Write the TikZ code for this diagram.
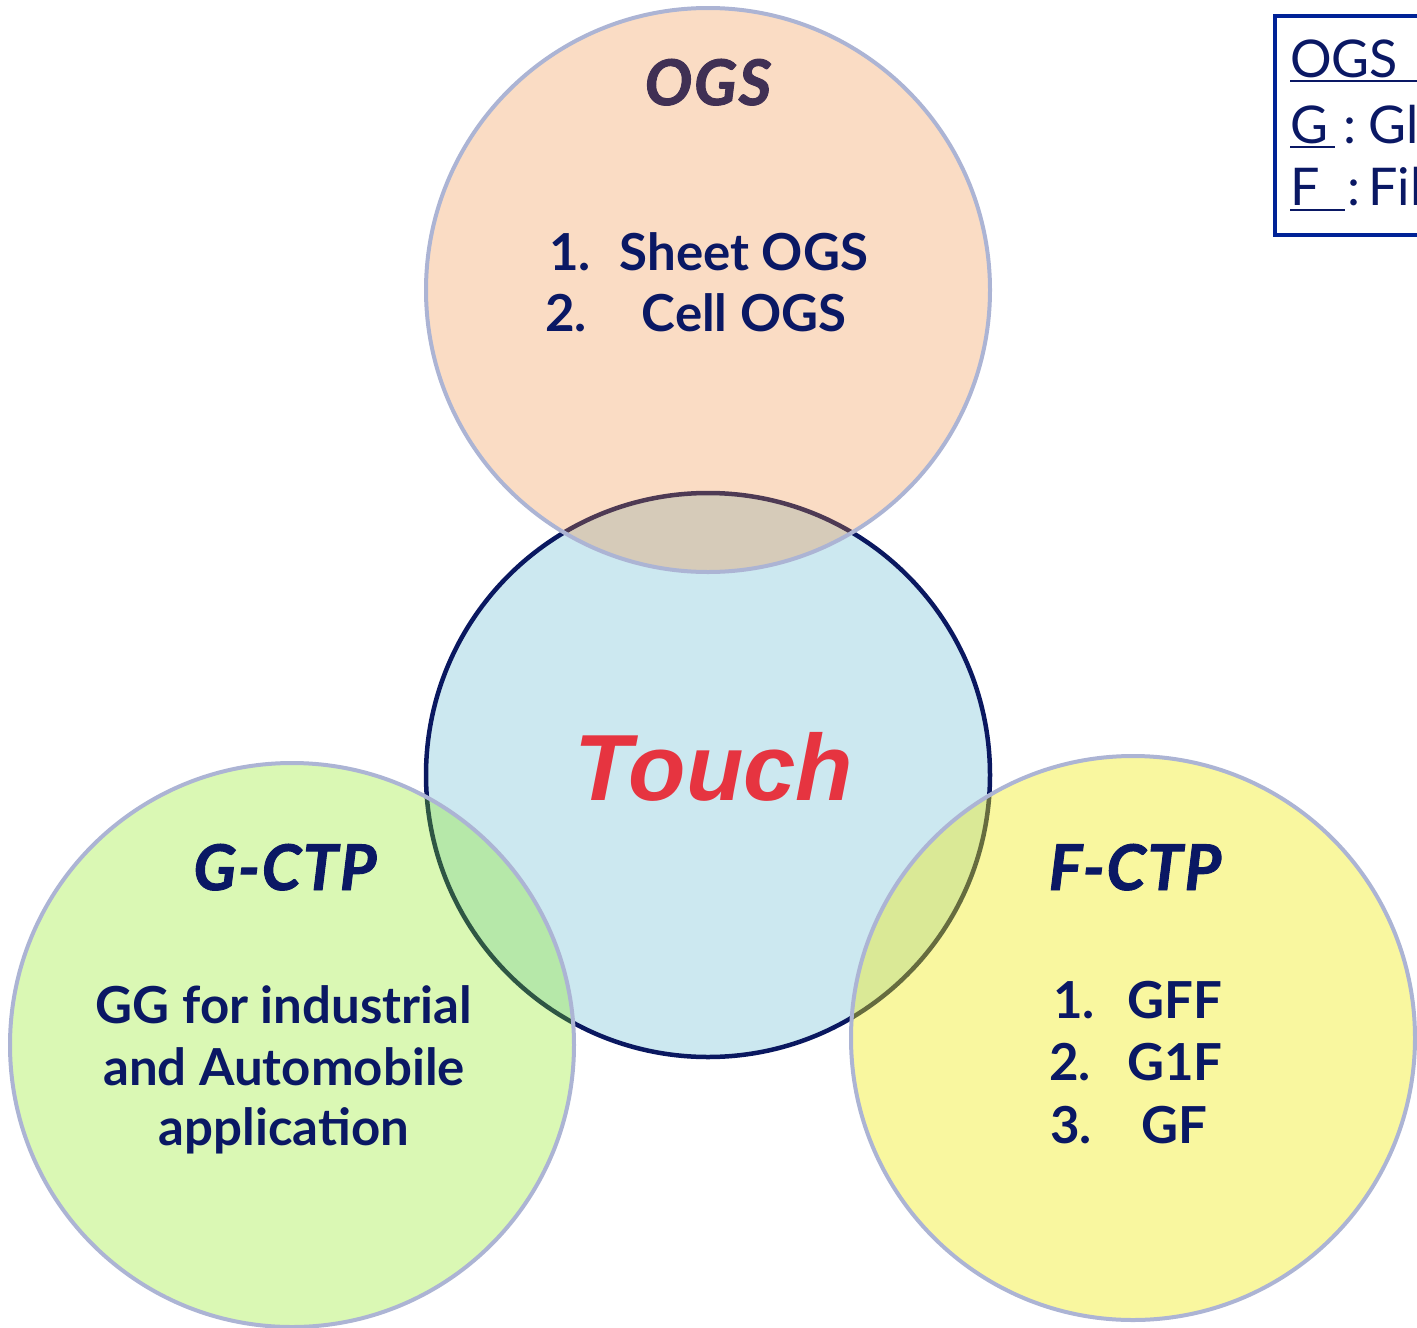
\documentclass[tikz,border=0pt]{standalone}
\usepackage{fontspec}
\setmainfont{Lato}
\newfontfamily\touchfont{Liberation Sans}
\newfontfamily\ttlfont[BoldItalicFeatures={FakeBold=1.5}, LetterSpace=3]{Lato}
\definecolor{navy}{RGB}{10,24,100}
\definecolor{titlepurple}{RGB}{64,48,84}
\definecolor{touchred}{RGB}{230,52,64}
\definecolor{touchfill}{RGB}{204,232,240}
\definecolor{touchline}{RGB}{10,24,96}
\definecolor{ringline}{RGB}{172,180,212}
\definecolor{ogsfill}{RGB}{238,138,58}
\definecolor{gfill}{RGB}{132,232,5}
\definecolor{ffill}{RGB}{240,235,15}
\definecolor{legblue}{RGB}{0,34,150}
\begin{document}
\begin{tikzpicture}[x=1pt,y=-1pt,
  venn/.style={circle, minimum size=564pt, inner sep=0pt, line width=4pt},
  ring/.style={venn, draw=ringline},
  body/.style={text=navy, inner sep=0pt, font=\fontsize{51}{54}\selectfont\bfseries},
  ttl/.style={text=navy, inner sep=0pt, font=\ttlfont\fontsize{63}{66}\selectfont\bfseries\itshape},
  leg/.style={text=navy, inner sep=0pt, font=\fontsize{52}{54}\selectfont},
  uline/.style={draw=navy, line width=2.5pt}]
\useasboundingbox (0,0) rectangle (1417,1328);
\clip (0,0) rectangle (1417,1328);
% circles
\node[venn, draw=touchline, line width=4.5pt, fill=touchfill] (touch) at (708,775) {};
\node[ring, fill=ogsfill, fill opacity=0.3] (ogs) at (708,290) {};
\node[ring, fill=gfill, fill opacity=0.3] (gctp) at (292,1045) {};
\node[ring, fill=ffill, fill opacity=0.4] (fctp) at (1133,1038) {};
% OGS texts
\node[ttl, text=titlepurple, anchor=base] (ogst) at (708,105) {OGS};
\node[body, anchor=base west] (o1n) at (549,270) {1.};
\node[body, anchor=base] (o1) at (744,270) {Sheet OGS};
\node[body, anchor=base west] (o2n) at (545,331) {2.};
\node[body, anchor=base] (o2) at (744,331) {Cell OGS};
% Touch
\node[text=touchred, inner sep=0pt, anchor=base, font=\touchfont\fontsize{94}{96}\selectfont\bfseries\itshape] (toucht) at (714,800) {Touch};
% G-CTP
\node[ttl, anchor=base] (gt) at (285,890) {G-CTP};
\node[body, anchor=base] (g1) at (284,1023) {GG for industrial};
\node[body, anchor=base] (g2) at (284,1085) {and Automobile};
\node[body, anchor=base] (g3) at (284,1145) {application};
% F-CTP
\node[ttl, anchor=base] (ft) at (1135,890) {F-CTP};
\node[body, anchor=base west] (f1n) at (1053,1018) {1.};
\node[body, anchor=base west] (f1) at (1127,1018) {GFF};
\node[body, anchor=base west] (f2n) at (1049,1080) {2.};
\node[body, anchor=base west] (f2) at (1127,1080) {G1F};
\node[body, anchor=base west] (f3n) at (1050,1143) {3.};
\node[body, anchor=base west] (f3) at (1141,1143) {GF};
% legend
\node[draw=legblue, line width=4pt, anchor=north west, minimum width=170pt, minimum height=219pt, inner sep=0pt] (legend) at (1273,14) {};
\node[leg, anchor=base west] (l1) at (1290,77) {OGS};
\node[leg, anchor=base west] (l2) at (1290,143) {G};
\node[leg, anchor=base west] (l2c) at (1343,143) {:};
\node[leg, anchor=base west] (l2t) at (1368,143) {Gl};
\node[leg, anchor=base west] (l3) at (1290,205) {F};
\node[leg, anchor=base west] (l3c) at (1347,205) {:};
\node[leg, anchor=base west] (l3t) at (1368,205) {Fil};
\draw[uline] (1290,81) -- (1420,81);
\draw[uline] (1290,147) -- (1335,147);
\draw[uline] (1290,210) -- (1345,210);
\end{tikzpicture}
\end{document}
